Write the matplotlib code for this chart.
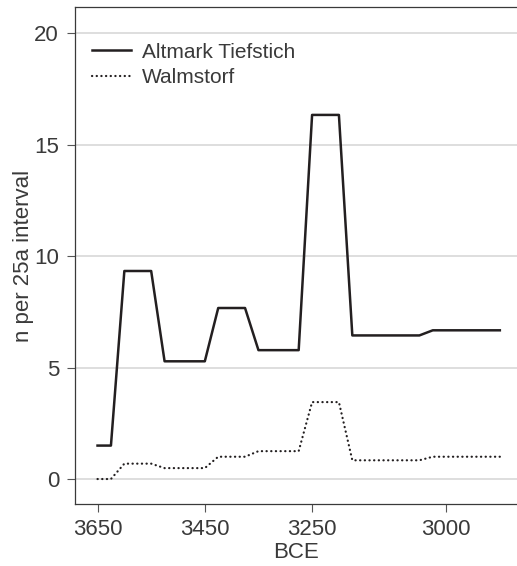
import matplotlib
matplotlib.use("Agg")
import matplotlib.pyplot as plt

# годы (BCE), шаг 25 лет
years = [3650, 3625, 3600, 3575, 3550, 3525, 3500, 3475, 3450, 3425, 3400,
         3375, 3350, 3325, 3300, 3275, 3250, 3225, 3200, 3175, 3150, 3125,
         3100, 3075, 3050, 3025, 3000, 2975, 2950, 2925, 2900]

altmark = [1.5, 1.5, 9.33, 9.33, 9.33, 5.28, 5.28, 5.28, 5.28, 7.67, 7.67,
           7.67, 5.78, 5.78, 5.78, 5.78, 16.33, 16.33, 16.33, 6.44, 6.44, 6.44,
           6.44, 6.44, 6.44, 6.67, 6.67, 6.67, 6.67, 6.67, 6.67]

walmstorf = [0.0, 0.0, 0.69, 0.69, 0.69, 0.49, 0.49, 0.49, 0.49, 1.0, 1.0,
             1.0, 1.25, 1.25, 1.25, 1.25, 3.45, 3.45, 3.45, 0.84, 0.84, 0.84,
             0.84, 0.84, 0.84, 1.0, 1.0, 1.0, 1.0, 1.0, 1.0]

x_ticks = [3650, 3450, 3250, 3000]
y_ticks = [0, 5, 10, 15, 20]

plt.rcParams['font.family'] = ['Liberation Sans', 'DejaVu Sans']
txt_col = '#3a3a3a'

fig = plt.figure(figsize=(5.17, 5.66), dpi=100)
ax = fig.add_axes([75/517, 62/566, 442/517, 497/566])

ax.plot(years, altmark, color='#231f20', lw=1.8, label='Altmark Tiefstich')
ax.plot(years, walmstorf, color='#231f20', lw=1.6, ls=(0, (0.1, 2.0)),
        dash_capstyle='round', label='Walmstorf')

ax.set_xlim(3692, 2868)
ax.set_ylim(-1.12, 21.17)
ax.set_xticks(x_ticks)
ax.set_yticks(y_ticks)

ax.yaxis.grid(True, color='#d4d4d4', lw=1.1)
ax.set_axisbelow(True)

for s in ['left', 'bottom', 'top']:
    ax.spines[s].set_color('#3a3a3a')
    ax.spines[s].set_linewidth(0.9)
ax.spines['right'].set_visible(False)

ax.tick_params(length=5.5, width=0.8, color='#555555', labelsize=16,
               labelcolor=txt_col)
ax.tick_params(axis='x', pad=5.5)
ax.tick_params(axis='y', pad=6)

ax.set_xlabel('BCE', fontsize=16, color=txt_col, labelpad=1)
ax.set_ylabel('n per 25a interval', fontsize=16, color=txt_col, labelpad=0)

ax.legend(loc='upper left', bbox_to_anchor=(0.0, 0.962), frameon=False,
          fontsize=15, handlelength=1.9, handletextpad=0.5, labelspacing=0.3,
          borderaxespad=0.4, labelcolor=txt_col)

fig.savefig('out.png', dpi=100)
